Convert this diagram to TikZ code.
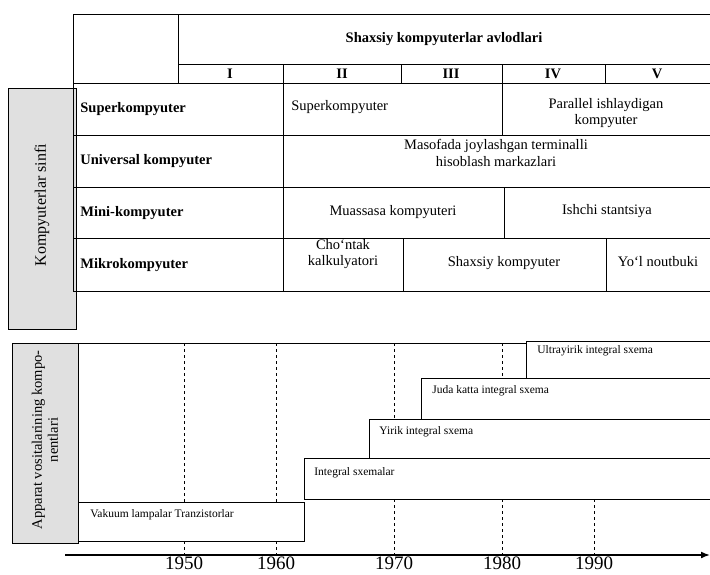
\documentclass[tikz,border=0pt]{standalone}
\usepackage{fontspec}
\setmainfont{Liberation Serif}
\usetikzlibrary{arrows.meta,positioning}

\begin{document}
\begin{tikzpicture}[x=1pt, y=-1pt, >=Latex, line width=.8pt,
  every node/.style={font=\fontsize{14.5}{16.5}\selectfont, align=center, inner sep=1pt},
  hd/.style={font=\fontsize{14.5}{16.5}\selectfont\bfseries},
  rowlbl/.style={anchor=west, font=\fontsize{14.5}{16.5}\selectfont\bfseries},
  comp/.style={anchor=west, font=\fontsize{11.5}{13}\selectfont},
  yr/.style={anchor=base, inner sep=0pt, font=\fontsize{19}{22}\selectfont},
  side/.style={draw, fill=black!12},
  era/.style={draw, fill=white},
  grid/.style={dashed, line width=.6pt}]
  \useasboundingbox (0,0) rectangle (710,574);

  % side labels
  \draw[side] (8,88) rectangle (76,329);
  \node[rotate=90, font=\fontsize{16}{18}\selectfont] (cls) at (42,205) {Kompyuterlar sinfi};
  \draw[side] (12,343) rectangle (78,543);
  \node[rotate=90, font=\fontsize{14.5}{16}\selectfont] (hw) at (45,440) {Apparat vositalarining kompo-\\nentlari};

  % table
  \draw (712,14) -- (73,14) -- (73,291) -- (712,291);
  \draw (178,64) -- (712,64);
  \foreach \y in {83,135,187,238} \draw (73,\y) -- (712,\y);
  \draw (178,14) -- (178,83) (283,64) -- (283,291);
  \foreach \x in {401,605} \draw (\x,64) -- (\x,83);
  \draw (502,64) -- (502,135) (504,187) -- (504,238) (403,238) -- (403,291) (606,238) -- (606,291);

  \node[hd] (gen) at (444,39) {Shaxsiy kompyuterlar avlodlari};
  \foreach \t/\x in {I/230,II/342,III/451,IV/553,V/657}
    \node[hd] (g\t) at (\x,74) {\t};

  \node[rowlbl] (super) at (79,109) {Superkompyuter};
  \node[rowlbl] (univ) at (79,161) {Universal kompyuter};
  \node[rowlbl] (mini) at (79,213) {Mini-kompyuter};
  \node[rowlbl] (mikro) at (79,265) {Mikrokompyuter};

  \node[anchor=west] (sk) at (290,107) {Superkompyuter};
  \node (par) at (606,113) {Parallel ishlaydigan\\kompyuter};
  \node (mas) at (496,153) {Masofada joylashgan terminalli\\hisoblash markazlari};
  \node (mua) at (393,212) {Muassasa kompyuteri};
  \node (ish) at (607,211) {Ishchi stantsiya};
  \node (cho) at (343,254) {Cho‘ntak\\kalkulyatori};
  \node (shx) at (504,263) {Shaxsiy kompyuter};
  \node (yol) at (658,262) {Yo‘l noutbuki};

  % components over time
  \draw (78,343) -- (712,343);
  \foreach \x in {184,276,394,502,594} \draw[grid] (\x,343) -- (\x,555);
  \draw[era] (78,502) rectangle (304,541);
  \draw[era] (304,458) rectangle (714,499);
  \draw[era] (369,419) rectangle (714,458);
  \draw[era] (421,378) rectangle (714,419);
  \draw[era] (526,341) rectangle (714,378);
  \node[comp] (vak) at (89,515) {Vakuum lampalar Tranzistorlar};
  \node[comp] (int) at (313,473) {Integral sxemalar};
  \node[comp] (yir) at (378,432) {Yirik integral sxema};
  \node[comp] (jud) at (431,391) {Juda katta integral sxema};
  \node[comp] (ult) at (536,351) {Ultrayirik integral sxema};

  \coordinate (ax0) at (65,555);
  \coordinate (ax1) at (710,555);
  \draw[-{Latex[length=9pt,width=7pt]}, line width=1.6pt] (ax0) -- (ax1);
  \foreach \x/\yy in {184/1950,276/1960,394/1970,502/1980,594/1990}
    \node[yr] (y\yy) at (\x,569) {\yy};
\end{tikzpicture}
\end{document}
